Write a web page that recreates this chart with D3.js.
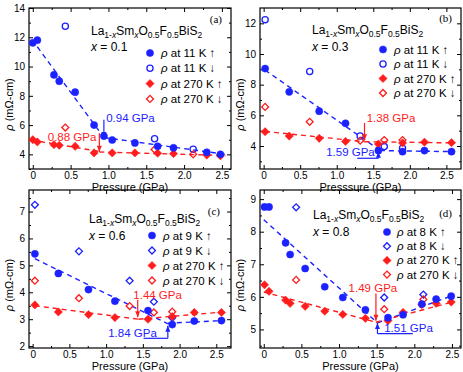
<!DOCTYPE html>
<html><head><meta charset="utf-8">
<script src="https://cdn.jsdelivr.net/npm/d3@7"></script>
<style>body{margin:0;background:#fff}svg{display:block}</style>
</head><body>
<svg id="chart" width="463" height="372"></svg>
<script>
// ---------- data ----------
const xTicks = [0, 0.5, 1, 1.5, 2, 2.5];
const xTickLabels = ["0", "0.5", "1.0", "1.5", "2.0", "2.5"];
const yTicksA = [4, 6, 8, 10, 12, 14];
const yTicksB = [4, 6, 8, 10, 12];
const yTicksC = [2, 3, 4, 5, 6, 7];
const yTicksD = [5, 6, 7, 8, 9];

// panel (a) x = 0.1
const pA_up = [0, 0.06, 0.28, 0.35, 0.56, 0.81, 0.94, 1.05, 1.35, 1.65, 1.86, 2.3, 2.48];
const a_low_up = [11.62, 11.8, 9.43, 9.0, 8.25, 6.0, 5.25, 4.98, 4.78, 4.55, 4.45, 4.14, 4.0];
const pA_up270 = [0, 0.06, 0.28, 0.35, 0.56, 0.81, 1.05, 1.35, 1.65, 1.86, 2.3, 2.48];
const a_270_up = [5.0, 4.85, 4.66, 4.62, 4.55, 4.1, 4.1, 4.1, 4.08, 4.05, 3.95, 3.9];
const pA_down = [2.12, 1.61, 0.43];
const a_low_down = [4.35, 5.07, 12.75];
const a_270_down = [4.0, 4.33, 5.83];
const a_fit_low = [[[0.06, 11.35], [0.94, 5.15]], [[0.94, 5.15], [2.55, 4.0]]];
const a_fit_270 = [[[-0.02, 4.98], [0.88, 4.2]], [[0.88, 4.16], [2.55, 3.92]]];

// panel (b) x = 0.3
const pB_up = [0.02, 0.35, 0.76, 1.12, 1.57, 1.9, 2.2, 2.57];
const b_low_up = [9.05, 7.53, 6.27, 5.48, 3.7, 3.63, 3.7, 3.63];
const b_270_up = [4.93, 4.65, 4.5, 4.3, 4.13, 4.2, 4.25, 4.22];
const pB_down = [1.9, 1.65, 1.32, 0.63, 0.02];
const b_low_down = [3.85, 3.96, 4.65, 8.86, 12.24];
const b_270_down = [4.39, 4.39, 4.35, 5.58, 6.55];
const b_fit_low = [[[0.02, 8.95], [1.59, 3.72]], [[1.59, 3.7], [2.62, 3.63]]];
const b_fit_270 = [[[0.02, 4.95], [1.38, 4.28]], [[1.38, 4.28], [2.62, 4.2]]];

// panel (c) x = 0.6
const pC_up = [0.03, 0.35, 0.76, 1.12, 1.57, 1.9, 2.2, 2.57];
const c_low_up = [5.43, 4.7, 4.1, 3.67, 3.32, 2.8, 2.93, 2.95];
const c_270_up = [3.53, 3.27, 3.17, 3.06, 3.0, 3.1, 3.25, 3.25];
const pC_down = [1.9, 1.65, 1.32, 0.63, 0.03];
const c_low_down = [3.05, 3.65, 4.43, 5.52, 7.25];
const c_270_down = [3.28, 3.25, 3.49, 3.78, 4.43];
const c_fit_low = [[[0.03, 5.25], [1.84, 2.83]], [[1.84, 2.85], [2.6, 2.95]]];
const c_fit_270 = [[[0.03, 3.5], [1.44, 3.0]], [[1.44, 3.0], [2.6, 3.27]]];

// panel (d) x = 0.8
const pD_up = [0.01, 0.07, 0.29, 0.35, 0.55, 0.81, 1.05, 1.35, 1.65, 1.85, 2.1, 2.29, 2.49];
const d_low_up = [8.76, 8.76, 7.66, 7.3, 6.87, 6.31, 5.98, 5.6, 5.36, 5.45, 5.78, 5.93, 6.02];
const d_270_up = [6.37, 6.17, 5.9, 5.8, 5.71, 5.56, 5.46, 5.34, 5.27, 5.52, 5.76, 5.8, 5.84];
const pD_down = [2.12, 1.6, 0.43];
const d_low_down = [6.07, 5.98, 8.75];
const d_270_down = [5.92, 5.62, 6.52];
const d_fit_low = [[[0, 8.37], [1.51, 5.2]], [[1.51, 5.2], [2.52, 6.05]]];
const d_fit_270 = [[[0, 6.15], [1.49, 5.22]], [[1.49, 5.22], [2.52, 5.85]]];

// ---------- layout ----------
const BLUE = "#1c22ff", RED = "#ff1c1c";
const FONT = "'Liberation Sans', Arial, sans-serif";

const panels = [
  { tag: "(a)", comp: "0.1", lowT: "11", downShape: "circle", xlabel: "Pressure (GPa)",
    L: 29, R: 231, T: 8, B: 169, xdom: [-0.05, 2.62], ydom: [3, 14], yTicks: yTicksA, yMinor: 1,
    upP: pA_up, lowUp: a_low_up, upP270: pA_up270, up270: a_270_up,
    downP: pA_down, lowDown: a_low_down, down270: a_270_down, fitLow: a_fit_low, fit270: a_fit_270,
    leg: { sx: 150, tx: 161, y0: 53, dy: 15.3 }, title: [91, 35], xeq: [91, 51], tagPos: [222, 23],
    ann: [
      { type: "down", c: BLUE, p: 0.94, v0: 6.37, v1: 5.12, text: "0.94 GPa", tp: 0.97, tv: 6.47, anchor: "start" },
      { type: "down", c: RED, p: 0.88, v0: 5.44, v1: 4.18, text: "0.88 GPa", tp: 0.84, tv: 5.21, anchor: "end" }
    ] },
  { tag: "(b)", comp: "0.3", lowT: "11", downShape: "circle", xlabel: "Presssure (GPa)",
    L: 260, R: 461, T: 8, B: 169, xdom: [-0.05, 2.7], ydom: [2.5, 13], yTicks: yTicksB, yMinor: 1,
    upP: pB_up, lowUp: b_low_up, upP270: pB_up, up270: b_270_up,
    downP: pB_down, lowDown: b_low_down, down270: b_270_down, fitLow: b_fit_low, fit270: b_fit_270,
    leg: { sx: 383, tx: 394, y0: 49.5, dy: 14.5 }, title: [312, 34], xeq: [312, 51], tagPos: [452, 22],
    ann: [
      { type: "down", c: RED, p: 1.38, v0: 5.5, v1: 4.38, text: "1.38 GPa", tp: 1.41, tv: 5.8, anchor: "start" },
      { type: "up", c: BLUE, p: 1.57, v0: 3.2, v1: 3.62, hp: 1.28, text: "1.59 GPa", tp: 1.52, tv: 3.6, anchor: "end" }
    ] },
  { tag: "(c)", comp: "0.6", lowT: "9", downShape: "diamond", xlabel: "Pressure (GPa)",
    L: 29, R: 231, T: 190, B: 348, xdom: [-0.05, 2.7], ydom: [1.93, 7.8], yTicks: yTicksC, yMinor: 0.5,
    upP: pC_up, lowUp: c_low_up, upP270: pC_up, up270: c_270_up,
    downP: pC_down, lowDown: c_low_down, down270: c_270_down, fitLow: c_fit_low, fit270: c_fit_270,
    leg: { sx: 152, tx: 163, y0: 235.5, dy: 15 }, title: [89, 222.5], xeq: [89, 240], tagPos: [220, 215],
    ann: [
      { type: "down", c: RED, p: 1.43, v0: 3.72, v1: 3.07, text: "1.44 GPa", tp: 1.37, tv: 3.9, anchor: "start" },
      { type: "up", c: BLUE, p: 1.84, v0: 2.29, v1: 2.76, hp: 1.51, text: "1.84 GPa", tp: 1.69, tv: 2.48, anchor: "end" }
    ] },
  { tag: "(d)", comp: "0.8", lowT: "8", downShape: "diamond", xlabel: "Pressure (GPa)",
    L: 260, R: 461, T: 190, B: 348, xdom: [-0.05, 2.62], ydom: [4.43, 9.28], yTicks: yTicksD, yMinor: 0.5,
    upP: pD_up, lowUp: d_low_up, upP270: pD_up, up270: d_270_up,
    downP: pD_down, lowDown: d_low_down, down270: d_270_down, fitLow: d_fit_low, fit270: d_fit_270,
    leg: { sx: 387, tx: 397, y0: 232, dy: 14.2 }, title: [313, 218.5], xeq: [313, 236], tagPos: [452, 217],
    ann: [
      { type: "down", c: RED, p: 1.49, v0: 6.1, v1: 5.27, text: "1.49 GPa", tp: 1.45, tv: 6.28, anchor: "middle" },
      { type: "up", c: BLUE, p: 1.51, v0: 4.87, v1: 5.2, hp: 1.98, text: "1.51 GPa", tp: 1.6, tv: 5.06, anchor: "start" }
    ] }
];

const svg = d3.select("#chart");
svg.append("rect").attr("width", 463).attr("height", 372).attr("fill", "#fff");

function rich(g, x, y, segs, size, subSize, color) {
  const t = g.append("text").attr("x", x).attr("y", y).attr("font-family", FONT)
    .attr("font-size", size).attr("fill", color || "#000");
  let cur = 0;
  segs.forEach(s => {
    const shift = s.sub ? 3 : 0;
    const ts = t.append("tspan").text(s.t).attr("dy", shift - cur);
    cur = shift;
    if (s.sub) ts.attr("font-size", subSize);
    if (s.it) ts.attr("font-style", "italic");
  });
  return t;
}

function marker(g, shape, filled, color, x, y) {
  if (shape === "circle") {
    g.append("circle").attr("cx", x).attr("cy", y).attr("r", filled ? 3.6 : 3.1)
      .attr("fill", filled ? color : "none").attr("stroke", color).attr("stroke-width", filled ? 0.5 : 1.3);
  } else {
    const sym = d3.symbol().type(d3.symbolSquare).size(filled ? 34 : 24);
    g.append("path").attr("d", sym()).attr("transform", `translate(${x},${y}) rotate(45)`)
      .attr("fill", filled ? color : "none").attr("stroke", color).attr("stroke-width", filled ? 0.5 : 1.3);
  }
}

panels.forEach(P => {
  const g = svg.append("g");
  const x = d3.scaleLinear().domain(P.xdom).range([P.L, P.R]);
  const y = d3.scaleLinear().domain(P.ydom).range([P.B, P.T]);

  // minor ticks
  const xMinor = d3.range(0, P.xdom[1], 0.25).filter(v => !xTicks.includes(v));
  const yMinor = d3.range(Math.ceil(P.ydom[0] / P.yMinor) * P.yMinor, P.ydom[1], P.yMinor)
    .filter(v => !P.yTicks.some(t => Math.abs(t - v) < 1e-6));

  const axStyle = sel => {
    sel.select(".domain").remove();
    sel.selectAll("line").attr("stroke", "#000").attr("stroke-width", 1);
    sel.selectAll("text").attr("font-family", FONT).attr("font-size", 10).attr("fill", "#000");
  };
  g.append("g").attr("transform", `translate(0,${P.B})`)
    .call(d3.axisBottom(x).tickValues(xTicks).tickFormat((d, i) => xTickLabels[i]).tickSize(-4).tickPadding(3)).call(axStyle);
  g.append("g").attr("transform", `translate(0,${P.B})`)
    .call(d3.axisBottom(x).tickValues(xMinor).tickFormat("").tickSize(-2)).call(axStyle);
  g.append("g").attr("transform", `translate(0,${P.T})`)
    .call(d3.axisTop(x).tickValues(xTicks).tickFormat("").tickSize(-4)).call(axStyle);
  g.append("g").attr("transform", `translate(0,${P.T})`)
    .call(d3.axisTop(x).tickValues(xMinor).tickFormat("").tickSize(-2)).call(axStyle);
  g.append("g").attr("transform", `translate(${P.L},0)`)
    .call(d3.axisLeft(y).tickValues(P.yTicks).tickFormat(d3.format("d")).tickSize(-4).tickPadding(4)).call(axStyle);
  g.append("g").attr("transform", `translate(${P.L},0)`)
    .call(d3.axisLeft(y).tickValues(yMinor).tickFormat("").tickSize(-2)).call(axStyle);
  g.append("g").attr("transform", `translate(${P.R},0)`)
    .call(d3.axisRight(y).tickValues(P.yTicks).tickFormat("").tickSize(-4)).call(axStyle);
  g.append("g").attr("transform", `translate(${P.R},0)`)
    .call(d3.axisRight(y).tickValues(yMinor).tickFormat("").tickSize(-2)).call(axStyle);

  g.append("rect").attr("x", P.L).attr("y", P.T).attr("width", P.R - P.L).attr("height", P.B - P.T)
    .attr("fill", "none").attr("stroke", "#000").attr("stroke-width", 1.2);

  // axis titles
  g.append("text").attr("x", (P.L + P.R) / 2).attr("y", P.B + 22).attr("text-anchor", "middle")
    .attr("font-family", FONT).attr("font-size", 11).text(P.xlabel);
  const yl = g.append("text").attr("transform", `translate(${P.L - 16},${(P.T + P.B) / 2 + 16}) rotate(-90)`)
    .attr("text-anchor", "middle").attr("font-family", FONT).attr("font-size", 11);
  yl.append("tspan").attr("font-style", "italic").text("ρ");
  yl.append("tspan").text(" (mΩ-cm)");

  // fits
  const line = d3.line().x(d => x(d[0])).y(d => y(d[1]));
  P.fitLow.forEach(seg => g.append("path").attr("d", line(seg)).attr("fill", "none")
    .attr("stroke", BLUE).attr("stroke-width", 1.4).attr("stroke-dasharray", "5,4"));
  P.fit270.forEach(seg => g.append("path").attr("d", line(seg)).attr("fill", "none")
    .attr("stroke", RED).attr("stroke-width", 1.4).attr("stroke-dasharray", "5,4"));

  // markers
  P.downP.forEach((p, i) => marker(g, P.downShape, false, BLUE, x(p), y(P.lowDown[i])));
  P.downP.forEach((p, i) => marker(g, "diamond", false, RED, x(p), y(P.down270[i])));
  P.upP270.forEach((p, i) => marker(g, "diamond", true, RED, x(p), y(P.up270[i])));
  P.upP.forEach((p, i) => marker(g, "circle", true, BLUE, x(p), y(P.lowUp[i])));

  // annotations
  P.ann.forEach(a => {
    const ax = x(a.p), y0 = y(a.v0), y1 = y(a.v1);
    g.append("line").attr("x1", ax).attr("x2", ax).attr("y1", y0).attr("y2", y1)
      .attr("stroke", a.c).attr("stroke-width", 1.2);
    const dir = y1 > y0 ? 1 : -1;
    g.append("path").attr("d", `M${ax},${y1} L${ax - 2.5},${y1 - dir * 6} L${ax + 2.5},${y1 - dir * 6} Z`).attr("fill", a.c);
    if (a.hp !== undefined) {
      g.append("line").attr("x1", ax).attr("x2", x(a.hp)).attr("y1", y0).attr("y2", y0)
        .attr("stroke", a.c).attr("stroke-width", 1.2);
    }
    g.append("text").attr("x", x(a.tp)).attr("y", y(a.tv)).attr("dy", "0.35em")
      .attr("text-anchor", a.anchor).attr("font-family", FONT).attr("font-size", 11.5)
      .attr("fill", a.c).text(a.text);
  });

  // title
  rich(g, P.title[0], P.title[1], [
    { t: "La" }, { t: "1-", sub: true, it: false }, { t: "x", sub: true, it: true }, { t: "Sm" },
    { t: "x", sub: true, it: true }, { t: "O" }, { t: "0.5", sub: true }, { t: "F" },
    { t: "0.5", sub: true }, { t: "BiS" }, { t: "2", sub: true }
  ], 12, 8.5);
  rich(g, P.xeq[0], P.xeq[1], [{ t: "x", it: true }, { t: " = " + P.comp }], 12, 8.5);
  g.append("text").attr("x", P.tagPos[0]).attr("y", P.tagPos[1]).attr("text-anchor", "end")
    .attr("font-family", "'Liberation Serif', 'Times New Roman', serif").attr("font-size", 11).text(P.tag);

  // legend
  const items = [
    { shape: "circle", filled: true, c: BLUE, T: P.lowT, arr: "↑" },
    { shape: P.downShape, filled: false, c: BLUE, T: P.lowT, arr: "↓" },
    { shape: "diamond", filled: true, c: RED, T: "270", arr: "↑" },
    { shape: "diamond", filled: false, c: RED, T: "270", arr: "↓" }
  ];
  items.forEach((it, i) => {
    const yy = P.leg.y0 + i * P.leg.dy;
    marker(g, it.shape, it.filled, it.c, P.leg.sx, yy);
    const t = g.append("text").attr("x", P.leg.tx).attr("y", yy).attr("dy", "0.35em")
      .attr("font-family", FONT).attr("font-size", 11.5);
    t.append("tspan").attr("font-style", "italic").text("ρ");
    t.append("tspan").text(` at ${it.T} K ${it.arr}`);
  });
});
</script>
</body></html>
